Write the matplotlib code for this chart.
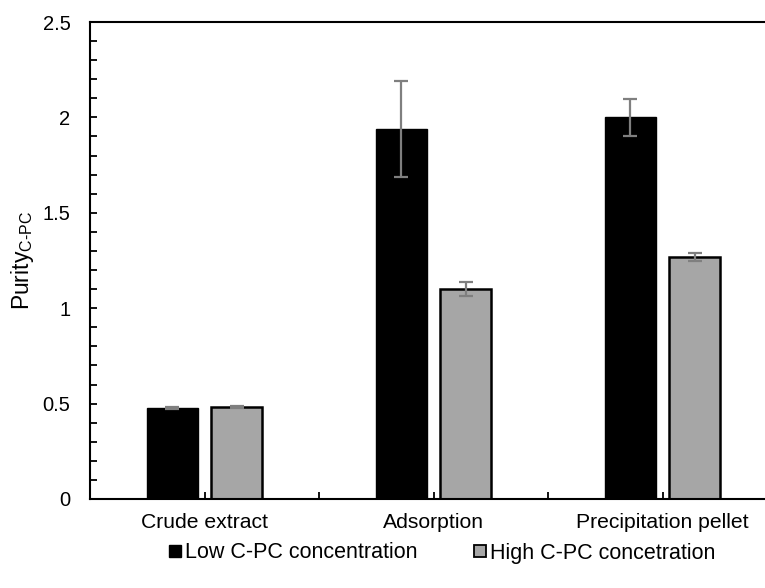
import matplotlib
matplotlib.use("Agg")
import matplotlib.pyplot as plt
from matplotlib.lines import Line2D
import numpy as np

plt.rcParams['font.family'] = ['Liberation Sans', 'DejaVu Sans']
plt.rcParams['mathtext.fontset'] = 'custom'
plt.rcParams['mathtext.rm'] = 'Liberation Sans'

categories = ["Crude extract", "Adsorption", "Precipitation pellet"]
low_mean = [0.477, 1.94, 2.00]
low_err = [0.005, 0.25, 0.095]
high_mean = [0.482, 1.10, 1.268]
high_err = [0.005, 0.035, 0.023]
series_names = ["Low C-PC concentration", "High C-PC concetration"]

fig = plt.figure(figsize=(7.65, 5.88), dpi=100)
ax = fig.add_axes([90 / 765, 1 - 499 / 588, 687 / 765, 477 / 588])

x = np.arange(len(categories))
w = 0.225
off = 0.14
err_kw = dict(ecolor="#7f7f7f", elinewidth=1.6, capsize=5, capthick=1.6)
ax.bar(x - off, low_mean, w, color="black", edgecolor="black", linewidth=1,
       yerr=low_err, error_kw=err_kw, zorder=2)
ax.bar(x + off, high_mean, w, color="#a6a6a6", edgecolor="black", linewidth=1.8,
       yerr=high_err, error_kw=err_kw, zorder=2)

ax.set_xlim(-0.5, len(categories) - 0.5)
ax.set_ylim(0, 2.5)
ax.set_yticks(np.arange(0, 2.51, 0.5))
ax.set_yticklabels(["0", "0.5", "1", "1.5", "2", "2.5"])
ax.set_yticks(np.arange(0, 2.51, 0.1), minor=True)
ax.set_xticks(x)
ax.set_xticklabels(categories)
ax.set_xticks(np.arange(-0.5, len(categories), 0.5), minor=True)

ax.tick_params(axis="y", which="both", direction="in", length=5, width=1.3,
               labelsize=14.5, pad=14)
ax.tick_params(axis="x", which="major", direction="in", length=5, width=1.3,
               labelsize=15.2, pad=10)
ax.tick_params(axis="x", which="minor", direction="in", length=5, width=1.3)
ax.tick_params(right=False)
for s in ["left", "bottom", "top"]:
    ax.spines[s].set_linewidth(1.5)
ax.spines["right"].set_visible(False)

ax.set_ylabel(r"Purity$_{\mathregular{C\text{-}PC}}$", fontsize=16.5, labelpad=5)

handles = [
    Line2D([], [], marker="s", linestyle="none", markersize=9,
           markerfacecolor="black", markeredgecolor="black"),
    Line2D([], [], marker="s", linestyle="none", markersize=9,
           markerfacecolor="#a6a6a6", markeredgecolor="black", markeredgewidth=1.3),
]
fig.legend(handles, series_names, loc="center", bbox_to_anchor=(442 / 765, 1 - 553 / 588),
           ncol=2, frameon=False, fontsize=15.5, handlelength=0.6, handletextpad=0.15,
           columnspacing=2.6)

fig.savefig("out.png", dpi=100)
